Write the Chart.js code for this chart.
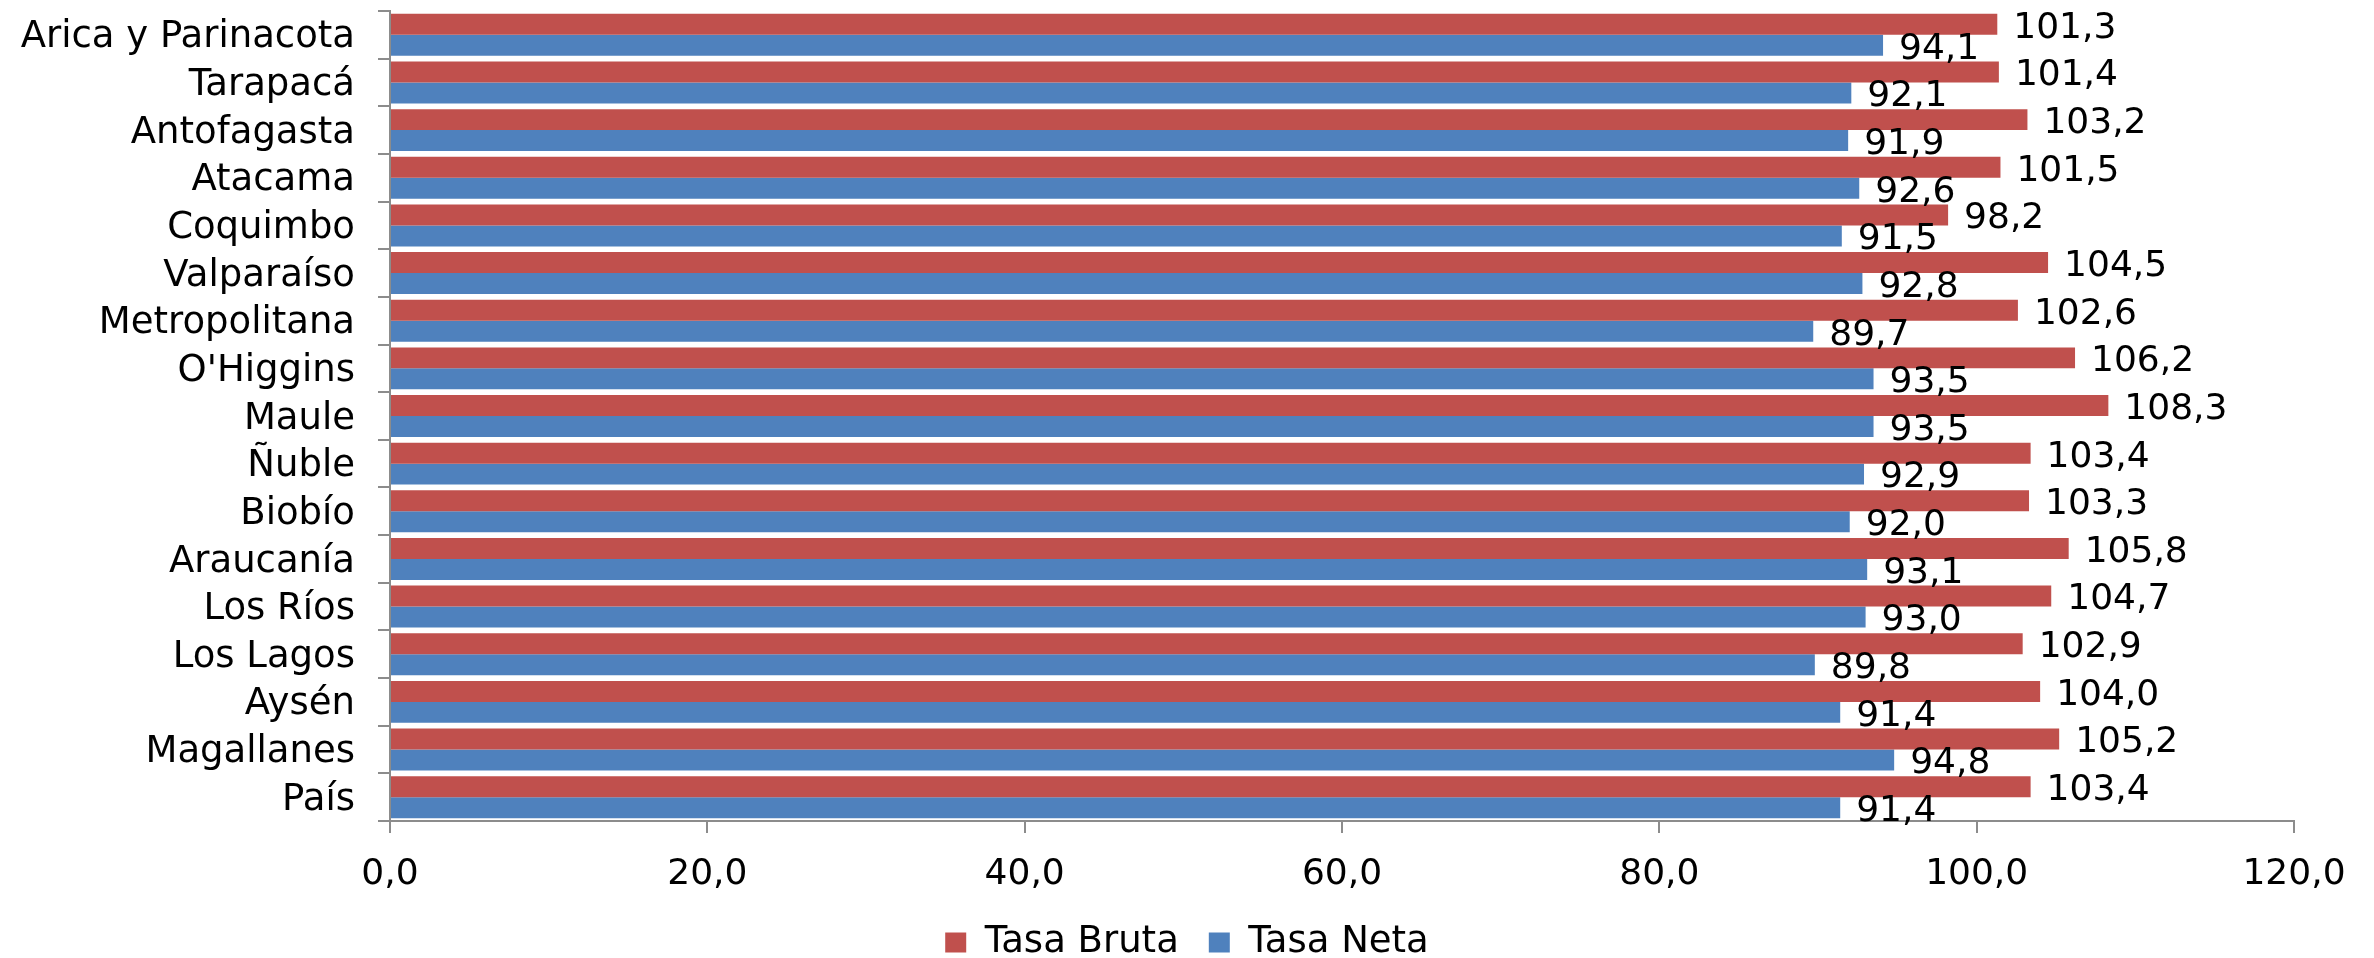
<!DOCTYPE html>
<html>
<head>
<meta charset="utf-8">
<style>
  html, body { margin: 0; padding: 0; background: #ffffff; }
  #c { display: block; }
</style>
<script src="https://cdn.jsdelivr.net/npm/chart.js@4.4.1/dist/chart.umd.min.js"></script>
</head>
<body>
<canvas id="c" width="2374" height="958"></canvas>
<script>
const regions = [
  'Arica y Parinacota', 'Tarapacá', 'Antofagasta', 'Atacama', 'Coquimbo',
  'Valparaíso', 'Metropolitana', "O'Higgins", 'Maule', 'Ñuble', 'Biobío',
  'Araucanía', 'Los Ríos', 'Los Lagos', 'Aysén', 'Magallanes', 'País'
];
const tasaBruta = [101.3, 101.4, 103.2, 101.5, 98.2, 104.5, 102.6, 106.2, 108.3, 103.4, 103.3, 105.8, 104.7, 102.9, 104.0, 105.2, 103.4];
const tasaNeta  = [94.1, 92.1, 91.9, 92.6, 91.5, 92.8, 89.7, 93.5, 93.5, 92.9, 92.0, 93.1, 93.0, 89.8, 91.4, 94.8, 91.4];
const xTickLabels = ['0,0', '20,0', '40,0', '60,0', '80,0', '100,0', '120,0'];
const seriesNames = ['Tasa Bruta', 'Tasa Neta'];

const FONT = "'DejaVu Sans', Verdana, sans-serif";
const fmt = v => v.toFixed(1).replace('.', ',');

const valueLabels = {
  id: 'valueLabels',
  afterDatasetsDraw(chart) {
    const ctx = chart.ctx;
    ctx.save();
    ctx.font = '36px ' + FONT;
    ctx.fillStyle = '#000000';
    ctx.textAlign = 'left';
    ctx.textBaseline = 'middle';
    chart.data.datasets.forEach((ds, di) => {
      const meta = chart.getDatasetMeta(di);
      meta.data.forEach((el, i) => {
        ctx.fillText(fmt(ds.data[i]), el.x + 16, el.y + 4);
      });
    });
    ctx.restore();
  }
};

new Chart(document.getElementById('c'), {
  type: 'bar',
  data: {
    labels: regions,
    datasets: [
      { label: seriesNames[0], data: tasaBruta, backgroundColor: '#C0504D', borderWidth: 0 },
      { label: seriesNames[1], data: tasaNeta, backgroundColor: '#4F81BD', borderWidth: 0 }
    ]
  },
  options: {
    indexAxis: 'y',
    responsive: false,
    animation: false,
    devicePixelRatio: 1,
    datasets: { bar: { categoryPercentage: 0.88, barPercentage: 1.0 } },
    layout: { padding: { top: 11, right: 0, bottom: -13, left: 0 } },
    scales: {
      x: {
        min: 0, max: 120,
        ticks: {
          stepSize: 20,
          color: '#000000',
          font: { family: FONT, size: 36, lineHeight: 1 },
          padding: 24,
          maxRotation: 0,
          callback: (v, i) => xTickLabels[i]
        },
        grid: { display: true, drawOnChartArea: false, drawTicks: true, tickLength: 12, color: '#8c8c8c', lineWidth: 2 },
        border: { display: true, color: '#8c8c8c', width: 2 },
        afterFit: s => { s.height = 73; s.paddingRight = 80; }
      },
      y: {
        ticks: {
          color: '#000000',
          font: { family: FONT, size: 37 },
          padding: 23,
          labelOffset: 3,
          autoSkip: false
        },
        grid: { display: true, drawOnChartArea: false, drawTicks: true, tickLength: 12, color: '#8c8c8c', lineWidth: 2, offset: true },
        border: { display: true, color: '#8c8c8c', width: 2 },
        afterFit: s => { s.width = 390; s.paddingTop = 0; s.paddingBottom = 0; }
      }
    },
    plugins: {
      legend: {
        position: 'bottom',
        labels: {
          color: '#000000',
          font: { family: FONT, size: 37 },
          boxWidth: 21,
          boxHeight: 20,
          padding: 30
        }
      },
      tooltip: { enabled: false }
    }
  },
  plugins: [valueLabels]
});
</script>
</body>
</html>
